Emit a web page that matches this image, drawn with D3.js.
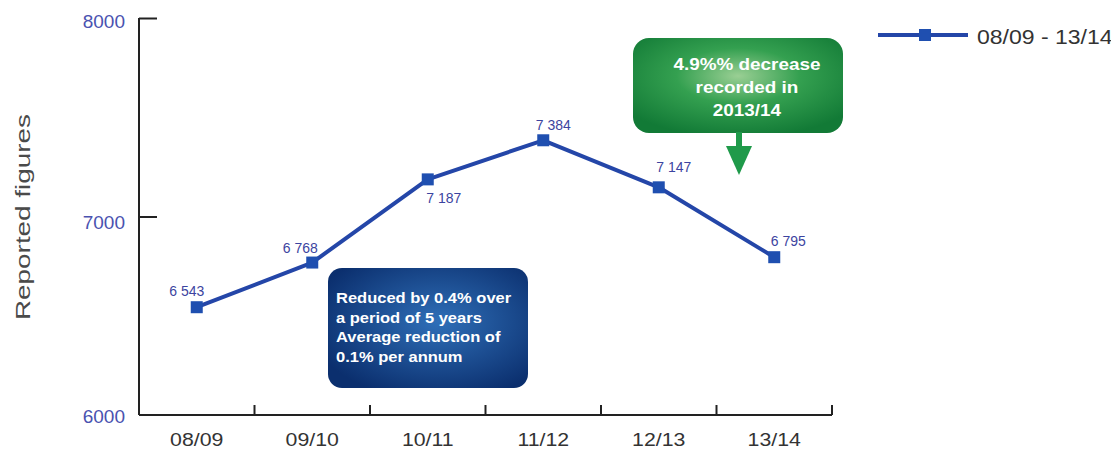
<!DOCTYPE html>
<html><head><meta charset="utf-8">
<script src="https://cdn.jsdelivr.net/npm/d3@7"></script>
<style>body{margin:0;background:#fff;}svg{display:block;font-family:"Liberation Sans",Arial,sans-serif;}</style>
</head><body>
<svg id="c" width="1111" height="453"></svg>
<script>
const categories = ["08/09","09/10","10/11","11/12","12/13","13/14"];
const values = [6543, 6768, 7187, 7384, 7147, 6795];
const valueLabels = ["6 543","6 768","7 187","7 384","7 147","6 795"];
const yTicks = [6000, 7000, 8000];
const seriesName = "08/09 - 13/14";
const blueNote = ["Reduced by 0.4% over","a period of 5 years","Average reduction of","0.1% per annum"];
const greenNote = ["4.9%% decrease","recorded in","2013/14"];

const svg = d3.select("#c");
function stretch(sel, k) {
  sel.each(function() { const w = this.getComputedTextLength(); d3.select(this).attr("textLength", w*k).attr("lengthAdjust","spacingAndGlyphs"); });
}
const defs = svg.append("defs");
const bg = defs.append("radialGradient").attr("id","bg").attr("cx","55%").attr("cy","45%").attr("r","65%");
bg.append("stop").attr("offset","0%").attr("stop-color","#2f6fb8");
bg.append("stop").attr("offset","100%").attr("stop-color","#0b2f6e");
const gg = defs.append("radialGradient").attr("id","gg").attr("cx","50%").attr("cy","40%").attr("r","65%");
gg.append("stop").attr("offset","0%").attr("stop-color","#9acf94");
gg.append("stop").attr("offset","45%").attr("stop-color","#34a050");
gg.append("stop").attr("offset","100%").attr("stop-color","#127a36");

const x = d3.scaleBand().domain(categories).range([139, 832]);
const y = d3.scaleLinear().domain([6000, 8000]).range([415, 18]);
const cx = d => x(d) + x.bandwidth()/2;

// Y axis
const yAxis = svg.append("g").attr("transform","translate(139,0)")
  .call(d3.axisRight(y).tickValues(yTicks).tickSize(18).tickFormat(""));
yAxis.select(".domain").attr("d", `M0,${y(8000)}V${y(6000)}`).attr("stroke","#222").attr("stroke-width",2);
yAxis.selectAll(".tick line").attr("stroke","#222").attr("stroke-width",2);
yAxis.selectAll(".tick").filter(d => d === 6000).remove();
svg.append("g").selectAll("text").data(yTicks).join("text")
  .attr("x",125).attr("y",d=>y(d)+12 - (d===8000?2:0) + (d===6000?-4:0)).attr("text-anchor","end")
  .attr("fill","#4a52b0").attr("font-size",19).text(d=>d);

// X axis
const xAxis = svg.append("g").attr("transform","translate(0,415)")
  .call(d3.axisTop(x).tickSize(0).tickFormat(""));
xAxis.select(".domain").attr("d","M139,0H832").attr("stroke","#222").attr("stroke-width",2);
const bounds = categories.map(c => x(c) + x.bandwidth());
svg.append("g").selectAll("line").data(bounds).join("line")
  .attr("x1",d=>d).attr("x2",d=>d).attr("y1",415).attr("y2",405)
  .attr("stroke","#222").attr("stroke-width",2);
svg.append("g").selectAll("text").data(categories).join("text")
  .attr("x",cx).attr("y",446).attr("text-anchor","middle")
  .attr("fill","#333").attr("font-size",19).text(d=>d).call(stretch,1.12);

// y title
svg.append("text").attr("transform","translate(30,217) rotate(-90)")
  .attr("text-anchor","middle").attr("fill","#4a4a4a").attr("font-size",20)
  .attr("textLength",206).attr("lengthAdjust","spacingAndGlyphs").text("Reported figures");

// line
const line = d3.line().x((d,i)=>cx(categories[i])).y(d=>y(d));
svg.append("path").datum(values).attr("d",line).attr("fill","none")
  .attr("stroke","#2446a8").attr("stroke-width",4).attr("stroke-linejoin","round");
svg.append("g").selectAll("rect").data(values).join("rect")
  .attr("x",(d,i)=>cx(categories[i])-6).attr("y",d=>y(d)-6)
  .attr("width",12).attr("height",12).attr("fill","#1f4fb0");

const offs = [[-10,-11],[-12,-10],[16,24],[10,-10],[15,-15],[14,-11]];
svg.append("g").selectAll("text").data(values).join("text")
  .attr("x",(d,i)=>cx(categories[i])+offs[i][0]).attr("y",(d,i)=>y(d)+offs[i][1])
  .attr("text-anchor","middle").attr("fill","#3c44a0").attr("font-size",14)
  .text((d,i)=>valueLabels[i]);

// blue note
svg.append("rect").attr("x",328).attr("y",268).attr("width",200).attr("height",120)
  .attr("rx",14).attr("fill","url(#bg)");
svg.append("g").selectAll("text").data(blueNote).join("text")
  .attr("x",336).attr("y",(d,i)=>303+i*19.5).attr("fill","#fff").attr("font-size",15)
  .attr("font-weight","bold").text(d=>d).call(stretch,1.1);

// green note
svg.append("rect").attr("x",633).attr("y",38).attr("width",210).attr("height",95)
  .attr("rx",16).attr("fill","url(#gg)");
svg.append("g").selectAll("text").data(greenNote).join("text")
  .attr("x",747).attr("y",(d,i)=>70+i*23).attr("text-anchor","middle")
  .attr("fill","#fff").attr("font-size",16).attr("font-weight","bold").text(d=>d).call(stretch,1.18);
svg.append("rect").attr("x",736).attr("y",132).attr("width",6).attr("height",16).attr("fill","#1f9a4a");
svg.append("path").attr("d","M726,146L752,146L739,175Z").attr("fill","#1f9a4a");

// legend
svg.append("line").attr("x1",878).attr("x2",968).attr("y1",35).attr("y2",35)
  .attr("stroke","#2446a8").attr("stroke-width",4);
svg.append("rect").attr("x",919).attr("y",29).attr("width",12).attr("height",12).attr("fill","#1f4fb0");
svg.append("text").attr("x",977).attr("y",44).attr("fill","#333").attr("font-size",20).text(seriesName).call(stretch,1.15);
</script>
</body></html>
